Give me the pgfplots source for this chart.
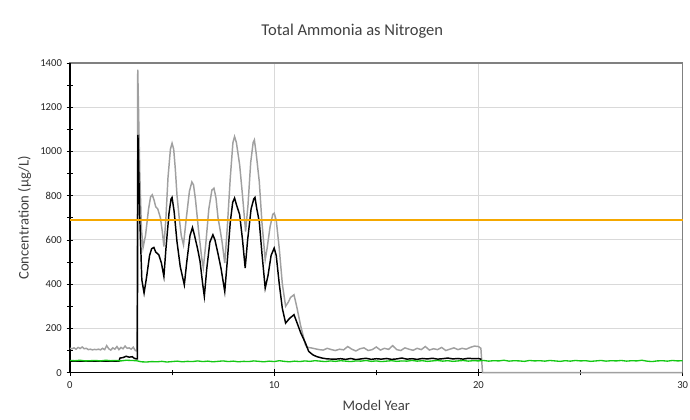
\documentclass[border=0pt]{standalone}
\usepackage{pgfplots}
\pgfplotsset{compat=1.18}
\usepackage{fontspec}
\setmainfont{Carlito}

\definecolor{gridc}{RGB}{217,217,217}
\definecolor{spine}{RGB}{128,128,128}
\definecolor{grayser}{RGB}{160,160,160}
\definecolor{greenser}{RGB}{20,200,20}
\definecolor{orangeser}{RGB}{245,168,0}
\definecolor{txt}{RGB}{64,64,64}

\begin{document}
\begin{tikzpicture}
\begin{axis}[
    name=ax,
    scale only axis,
    width=460pt, height=232.5pt,
    xmin=0, xmax=30, ymin=0, ymax=1400,
    xtick={0,10,20,30},
    ytick={0,200,...,1400},
    minor x tick num=1,
    minor y tick num=1,
    xtick pos=bottom, ytick pos=left,
    tick align=center,
    major tick length=5pt, minor tick length=4pt,
    tick style={black, line width=0.6pt},
    ymajorgrids, xmajorgrids,
    major grid style={gridc, line width=0.8pt},
    axis line style={spine, line width=0.9pt},
    clip=false,
    /pgf/number format/assume math mode=true,
    /pgf/number format/set thousands separator={},
    ticklabel style={font=\fontsize{8}{9}\selectfont, text=black!85},
    xticklabel style={yshift=-1pt},
    xlabel={Model Year},
    ylabel={Concentration (µg/L)},
    label style={font=\fontsize{11}{13}\selectfont, text=txt},
    xlabel style={yshift=-2pt},
    ylabel style={yshift=0pt},
]
\draw[black, line width=0.9pt] (rel axis cs:0,1) -- (rel axis cs:0,0) -- (rel axis cs:1,0);

% gray series
\addplot[grayser, line width=1.1pt] coordinates {
(0.0,110) (0.1,108) (0.2,112) (0.3,106) (0.4,114) (0.5,109) (0.6,116) (0.7,108) (0.8,110) (0.9,104)
(1.0,106) (1.1,103) (1.2,105) (1.3,104) (1.4,106) (1.5,103) (1.6,110) (1.7,104) (1.8,122) (1.9,108)
(2.0,102) (2.1,112) (2.2,106) (2.3,118) (2.4,104) (2.5,114) (2.6,108) (2.7,120) (2.8,110) (2.9,112)
(3.0,106) (3.1,115) (3.2,100) (3.28,98) (3.32,1370) (3.42,900) (3.5,650) (3.58,565) (3.7,620)
(3.85,740) (3.95,795) (4.03,804) (4.12,780) (4.2,750) (4.3,740) (4.43,700) (4.52,640) (4.6,570)
(4.7,700) (4.8,880) (4.92,1010) (5.0,1037) (5.08,1010) (5.16,920) (5.24,804) (5.35,700) (5.45,620)
(5.56,578) (5.7,700) (5.85,820) (5.97,862) (6.05,849) (6.15,780) (6.3,640) (6.45,520) (6.53,473)
(6.65,580) (6.8,740) (6.95,825) (7.05,834) (7.15,790) (7.25,700) (7.34,653) (7.45,590) (7.58,495)
(7.7,650) (7.85,880) (7.98,1040) (8.06,1067) (8.15,1040) (8.31,939) (8.45,800) (8.6,638) (8.72,760)
(8.85,950) (8.97,1040) (9.03,1052) (9.12,990) (9.27,864) (9.4,680) (9.56,510) (9.65,560) (9.8,660)
(9.93,715) (10.0,721) (10.1,690) (10.25,560) (10.4,400) (10.56,300) (10.7,320) (10.8,340) (10.97,352)
(11.1,300) (11.3,210) (11.53,126) (11.6,115) (11.8,112)
(12.0,108) (12.2,104) (12.4,102) (12.6,110) (12.8,104) (13.0,100) (13.2,106) (13.4,103) (13.6,118)
(13.8,106) (14.0,98) (14.2,108) (14.4,112) (14.6,100) (14.8,104) (15.0,116) (15.2,102) (15.4,110)
(15.6,105) (15.8,122) (16.0,104) (16.2,100) (16.4,112) (16.6,106) (16.8,101) (17.0,110) (17.2,104)
(17.4,118) (17.6,102) (17.8,108) (18.0,104) (18.2,114) (18.4,100) (18.6,106) (18.8,112) (19.0,104)
(19.2,110) (19.4,106) (19.6,114) (19.8,120) (20.0,118) (20.12,110) (20.2,0) (30,0)
};

% black series
\addplot[black, line width=1.1pt] coordinates {
(0,52) (2.4,52) (2.42,58) (2.45,66) (2.6,68) (2.75,74) (2.9,70) (3.05,72) (3.15,65) (3.25,62) (3.3,62)
(3.33,1075) (3.42,700) (3.52,420) (3.63,360) (3.75,430) (3.9,530) (4.0,560) (4.11,566) (4.2,545)
(4.35,533) (4.48,495) (4.6,435) (4.7,560) (4.85,720) (4.95,785) (5.0,792) (5.1,730) (5.24,593)
(5.4,480) (5.6,397) (5.72,500) (5.88,620) (6.0,656) (6.1,620) (6.25,560) (6.37,503) (6.5,400)
(6.58,345) (6.7,470) (6.85,590) (7.0,623) (7.1,600) (7.26,533) (7.4,470) (7.58,367) (7.7,500)
(7.85,680) (7.97,770) (8.06,789) (8.15,760) (8.31,714) (8.45,600) (8.58,473) (8.7,600) (8.87,740)
(9.0,785) (9.06,792) (9.15,740) (9.27,683) (9.4,540) (9.56,382) (9.7,440) (9.85,530) (10.0,563)
(10.1,530) (10.25,400) (10.4,290) (10.56,224) (10.75,245) (10.97,262) (11.1,230) (11.3,180)
(11.53,134) (11.69,96) (11.9,80) (12.1,72) (12.34,66) (12.6,62) (13.0,61)
(13.25,63) (13.5,60) (13.75,64) (14.0,59) (14.25,62) (14.5,65) (14.75,60) (15.0,63) (15.25,61)
(15.5,64) (15.75,60) (16.0,62) (16.25,66) (16.5,61) (16.75,63) (17.0,60) (17.25,64) (17.5,62)
(17.75,65) (18.0,61) (18.25,63) (18.5,66) (18.75,62) (19.0,64) (19.25,61) (19.5,65) (19.75,63)
(20.0,64) (20.15,60)
};

% green series
\addplot[greenser, line width=1pt] coordinates {
(0,55) (0.25,54) (0.5,56) (0.75,53) (1,54) (1.25,55) (1.5,53) (1.75,56) (2,54) (2.25,55) (2.5,53)
(2.75,56) (3,55) (3.25,54) (3.5,49) (3.75,48) (4,50) (4.25,49) (4.5,51) (4.75,48) (5,50) (5.25,52)
(5.5,49) (5.75,51) (6,50) (6.25,53) (6.5,50) (6.75,52) (7,49) (7.25,51) (7.5,53) (7.75,50) (8,52)
(8.25,49) (8.5,51) (8.75,50) (9,53) (9.25,51) (9.5,49) (9.75,52) (10,50) (10.25,54) (10.5,51)
(10.75,49) (11,52) (11.25,50) (11.5,53) (11.75,51) (12,54) (12.25,52) (12.5,50) (12.75,53) (13,51)
(13.25,54) (13.5,52) (13.75,50) (14,53) (14.25,52) (14.5,55) (14.75,51) (15,53) (15.25,50) (15.5,52)
(15.75,54) (16,51) (16.25,53) (16.5,52) (16.75,55) (17,52) (17.25,54) (17.5,51) (17.75,53) (18,55)
(18.25,52) (18.5,54) (18.75,51) (19,53) (19.25,55) (19.5,52) (19.75,54) (20,53) (20.25,55) (20.5,52)
(20.75,54) (21,53) (21.25,56) (21.5,52) (21.75,54) (22,53) (22.25,51) (22.5,55) (22.75,53) (23,54)
(23.25,52) (23.5,55) (23.75,53) (24,51) (24.25,54) (24.5,52) (24.75,55) (25,53) (25.25,54) (25.5,51)
(25.75,53) (26,55) (26.25,52) (26.5,54) (26.75,53) (27,55) (27.25,52) (27.5,54) (27.75,53) (28,56)
(28.25,52) (28.5,50) (28.75,53) (29,54) (29.25,52) (29.5,55) (29.75,53) (30,54)
};

% threshold
\addplot[orangeser, line width=1pt] coordinates {(0,690) (30,690)};
\end{axis}
\node[font=\fontsize{12.4}{14}\selectfont, text=txt] at ([xshift=-18pt, yshift=23.5pt]ax.north) {Total Ammonia as Nitrogen};
\pgfresetboundingbox
\path[use as bounding box] ([xshift=-52.5pt, yshift=-35.25pt]ax.south west) rectangle ([xshift=5.5pt, yshift=47.25pt]ax.north east);
\end{tikzpicture}
\end{document}
